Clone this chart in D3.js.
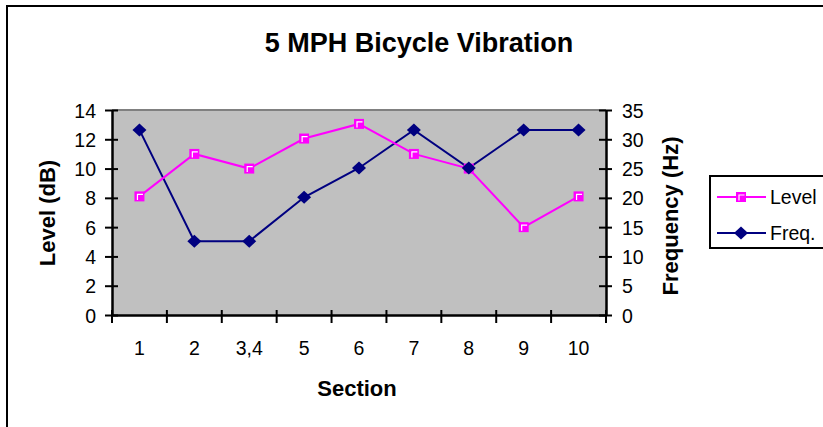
<!DOCTYPE html>
<html><head><meta charset="utf-8">
<script src="https://cdn.jsdelivr.net/npm/d3@7"></script>
<style>body{margin:0;background:#fff}svg{display:block}text{font-family:"Liberation Sans",Arial,sans-serif}</style>
</head><body><svg id="c" width="823" height="427"></svg>
<script>
const sections = ["1","2","3,4","5","6","7","8","9","10"];
const levelValues = [8.1, 11, 10, 12.05, 13.05, 11, 10, 6, 8.1];
const freqValues = [31.6, 12.6, 12.6, 20.1, 25.1, 31.6, 25.1, 31.6, 31.6];
const levelTicks = [0,2,4,6,8,10,12,14];
const freqTicks = [0,5,10,15,20,25,30,35];
const seriesNames = ["Level","Freq."];

const svg = d3.select("#c");
const L = 112, R = 606, T = 110, B = 315;
const tickFont = 19.5;

// outer frame
svg.append("rect").attr("x",7).attr("y",6).attr("width",830).attr("height",440)
  .attr("fill","#fff").attr("stroke","#000").attr("stroke-width",2);

const x = d3.scaleBand().domain(sections).range([L,R]).padding(0);
const yL = d3.scaleLinear().domain([0,14]).range([B,T]);
const yR = d3.scaleLinear().domain([0,35]).range([B,T]);

svg.append("rect").attr("x",L).attr("y",T).attr("width",R-L).attr("height",B-T).attr("fill","#C0C0C0");
svg.append("line").attr("x1",L).attr("x2",R).attr("y1",T).attr("y2",T).attr("stroke","#808080").attr("stroke-width",2);

// title
svg.append("text").attr("x",419).attr("y",52).attr("text-anchor","middle")
  .attr("font-size",27).attr("font-weight","bold").text("5 MPH Bicycle Vibration");

function styleAxis(g){
  g.selectAll(".domain").attr("stroke","#000").attr("stroke-width",2.5);
  g.selectAll(".tick line").attr("stroke","#000").attr("stroke-width",2);
  g.selectAll(".tick text").attr("font-size",tickFont).attr("fill","#000").attr("font-family","'Liberation Sans',Arial,sans-serif");
}

// left axis
const gl = svg.append("g").attr("transform",`translate(${L},0)`)
  .call(d3.axisLeft(yL).tickValues(levelTicks).tickSize(6).tickSizeOuter(0).tickPadding(11));
styleAxis(gl);
gl.selectAll(".tick line").attr("x2",-7).attr("x1",6);
gl.selectAll(".tick text").attr("x",-16).attr("dy","0.36em");

// right axis
const gr = svg.append("g").attr("transform",`translate(${R},0)`)
  .call(d3.axisRight(yR).tickValues(freqTicks).tickSize(6).tickSizeOuter(0).tickPadding(10));
styleAxis(gr);
gr.selectAll(".tick line").attr("x1",-7).attr("x2",6);
gr.selectAll(".tick text").attr("x",16).attr("dy","0.36em");

// bottom axis with ticks at band boundaries
const gb = svg.append("g").attr("transform",`translate(0,${B})`)
  .call(d3.axisBottom(x).tickSize(0).tickSizeOuter(0).tickPadding(0));
styleAxis(gb);
gb.selectAll(".tick text").attr("dy",null).attr("y",40);
const bounds = sections.map(s=>x(s)).concat([x(sections[sections.length-1])+x.bandwidth()]);
gb.selectAll(".bt").data(bounds).enter().append("line")
  .attr("x1",d=>d).attr("x2",d=>d).attr("y1",-5).attr("y2",8).attr("stroke","#000").attr("stroke-width",2);
gb.select(".domain").raise();

// axis titles
svg.append("text").attr("transform","translate(55,213) rotate(-90)").attr("text-anchor","middle")
  .attr("font-size",22).attr("font-weight","bold").text("Level (dB)");
svg.append("text").attr("transform","translate(678,216) rotate(-90)").attr("text-anchor","middle")
  .attr("font-size",22).attr("font-weight","bold").text("Frequency (Hz)");
svg.append("text").attr("x",357).attr("y",396).attr("text-anchor","middle")
  .attr("font-size",22).attr("font-weight","bold").text("Section");

const cx = s => x(s) + x.bandwidth()/2;
const levelColor = "#FF00FF", freqColor = "#000080";

function drawSquare(g, px, py){
  g.append("rect").attr("x",px-5).attr("y",py-5).attr("width",10).attr("height",10).attr("fill",levelColor);
  g.append("path").attr("d",`M${px-2},${py+3.5}V${py-2}H${px+3.5}`).attr("fill","none").attr("stroke","#fff").attr("stroke-width",1.2);
}
function drawDiamond(g, px, py){
  g.append("path").attr("d",`M${px},${py-6.5}L${px+7},${py}L${px},${py+6.5}L${px-7},${py}Z`).attr("fill",freqColor);
}

// freq line (right axis)
const lineF = d3.line().x((d,i)=>cx(sections[i])).y(d=>yR(d));
svg.append("path").datum(freqValues).attr("d",lineF).attr("fill","none").attr("stroke",freqColor).attr("stroke-width",2);
// level line (left axis)
const lineL = d3.line().x((d,i)=>cx(sections[i])).y(d=>yL(d));
svg.append("path").datum(levelValues).attr("d",lineL).attr("fill","none").attr("stroke",levelColor).attr("stroke-width",2);

const mk = svg.append("g");
levelValues.forEach((v,i)=>drawSquare(mk, cx(sections[i]), yL(v)));
freqValues.forEach((v,i)=>drawDiamond(mk, cx(sections[i]), yR(v)));

// legend
svg.append("rect").attr("x",710).attr("y",176).attr("width",130).attr("height",72)
  .attr("fill","#fff").attr("stroke","#000").attr("stroke-width",2);
const lg = svg.append("g");
[[197, levelColor, 0],[233, freqColor, 1]].forEach(([ly,col,k])=>{
  lg.append("line").attr("x1",717).attr("x2",766).attr("y1",ly).attr("y2",ly).attr("stroke",col).attr("stroke-width",2);
  if(k===0) drawSquare(lg, 741, ly); else drawDiamond(lg, 741, ly);
  lg.append("text").attr("x",770).attr("y",ly+6.5).attr("font-size",19.5).text(seriesNames[k]);
});
</script></body></html>
